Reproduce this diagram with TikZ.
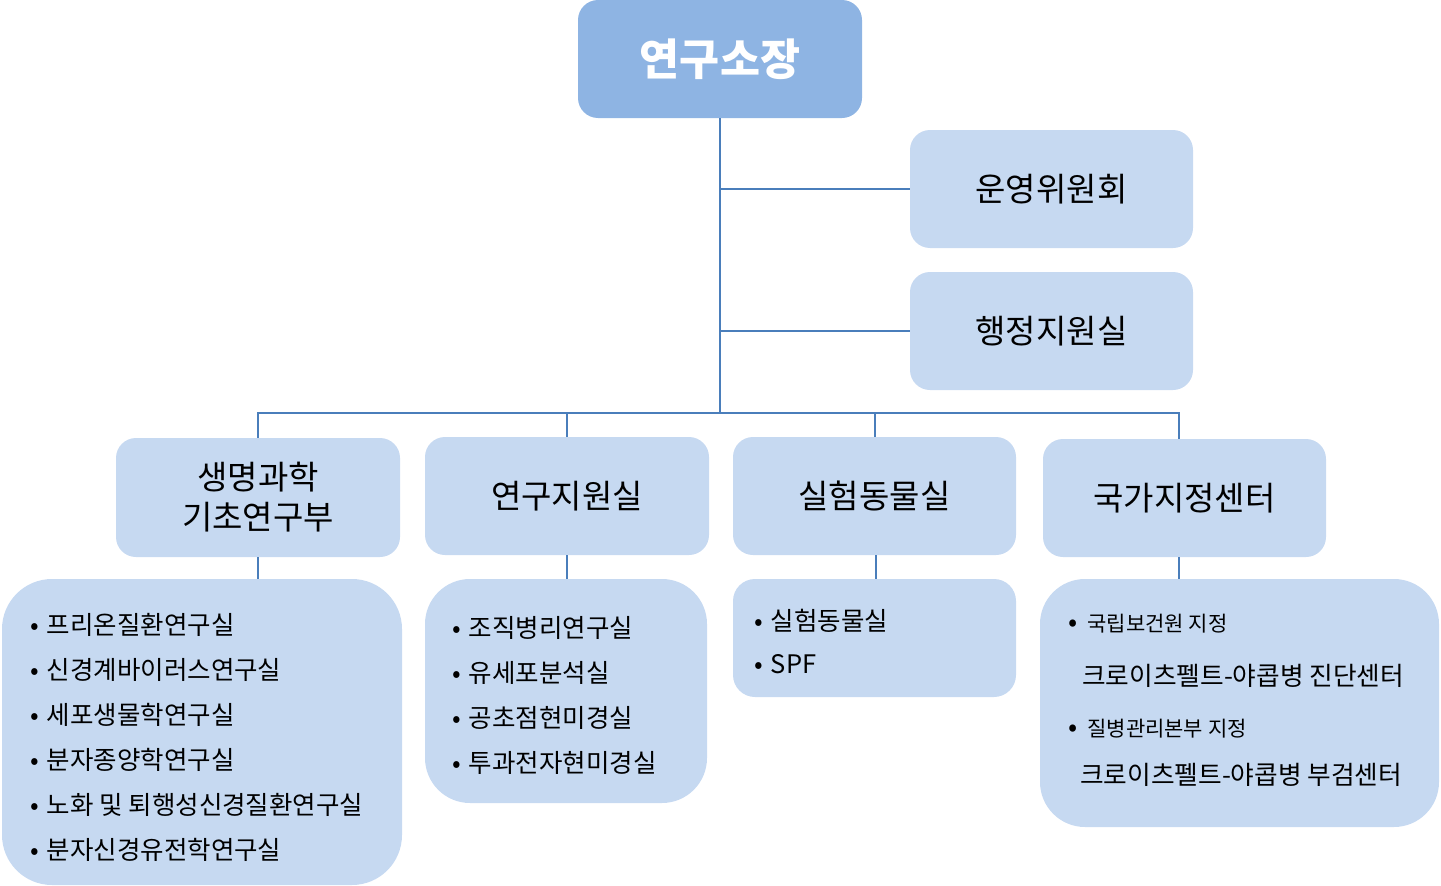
\documentclass[tikz,border=0pt]{standalone}
\usepackage{fontspec}
\setmainfont{Noto Sans CJK KR}
\usetikzlibrary{positioning}
\definecolor{headblue}{HTML}{8EB4E3}
\definecolor{boxblue}{HTML}{C6D9F1}
\definecolor{linkblue}{HTML}{4A7EBB}
\newcommand{\bul}{•\hspace{8pt}}

\begin{document}
\begin{tikzpicture}[
x=1pt,y=-1pt,
font=\normalfont,
head/.style={draw=none,fill=headblue,rounded corners=20pt,minimum width=284pt,minimum height=118pt,text=white,font=\fontsize{43.5}{46}\selectfont\bfseries},
unit/.style={draw=none,fill=boxblue,rounded corners=20pt,minimum width=283pt,minimum height=118pt,align=center,font=\fontsize{33}{40}\selectfont},
labs/.style={draw=none,fill=boxblue,inner sep=0pt},
items/.style={anchor=north west,inner sep=0pt,align=left,font=\fontsize{25.5}{45}\selectfont},
small/.style={anchor=west,inner sep=0pt,font=\fontsize{21}{24}\selectfont},
big/.style={anchor=west,inner sep=0pt,font=\fontsize{25.7}{28}\selectfont},
link/.style={draw=linkblue,line width=2pt}
]
    \useasboundingbox (0,0) rectangle (1441,886);

    % Director and staff offices
    \node[head] (dir) at (720,59) {연구소장};
    \node[unit] (com) at (1051.5,189) {운영위원회};
    \node[unit] (adm) at (1051.5,331) {행정지원실};

    % Departments
    \node[unit,minimum width=284pt,minimum height=119pt] (dep1) at (258,497.5) {생명과학\\기초연구부};
    \node[unit,minimum width=284pt] (dep2) at (567,496) {연구지원실};
    \node[unit] (dep3) at (874.5,496) {실험동물실};
    \node[unit,minimum height=118pt] (dep4) at (1184.5,498) {국가지정센터};

    % Labs under each department
    \node[labs,rounded corners=50pt,minimum width=400pt,minimum height=306pt] (lab1) at (202,732) {};
    \node[labs,rounded corners=45pt,minimum width=282pt,minimum height=224pt] (lab2) at (566,691) {};
    \node[labs,rounded corners=22pt,minimum width=283pt,minimum height=118pt] (lab3) at (874.5,638) {};
    \node[labs,rounded corners=45pt,minimum width=399pt,minimum height=248pt] (lab4) at (1239.5,703) {};

    \coordinate (bus) at (720,413);

    \draw[link] (dir.south) -- (bus);
    \draw[link] (dir.south |- com.west) -- (com.west);
    \draw[link] (dir.south |- adm.west) -- (adm.west);
    \draw[link] (dep1.north) -- (dep1.north |- bus) -| ([xshift=-6pt]dep4.north);
    \draw[link] (dep2.north) -- (dep2.north |- bus);
    \draw[link] (dep3.north) -- (dep3.north |- bus);

    \draw[link] (dep1.south) -- (dep1.south |- lab1.north);
    \draw[link] (dep2.south) -- (dep2.south |- lab2.north);
    \draw[link] ([xshift=1.5pt]dep3.south) -- ([xshift=1.5pt]dep3.south |- lab3.north);
    \draw[link] ([xshift=-6pt]dep4.south) -- ([xshift=-6pt]dep4.south |- lab4.north);

    \node[items] (list1) at (30,613) {\bul 프리온질환연구실\\\bul 신경계바이러스연구실\\\bul 세포생물학연구실\\\bul 분자종양학연구실\\\bul 노화 및 퇴행성신경질환연구실\\\bul 분자신경유전학연구실};
    \node[items] (list2) at (452,616) {\bul 조직병리연구실\\\bul 유세포분석실\\\bul 공초점현미경실\\\bul 투과전자현미경실};
    \node[items,font=\fontsize{25.5}{43}\selectfont] (list3) at (754,609) {\bul 실험동물실\\\bul SPF};

    \node[small] (nih) at (1068,624) {{\fontsize{27}{27}\selectfont •}\hspace{10pt}국립보건원 지정};
    \node[big] (diag) at (1082,676) {크로이츠펠트-야콥병 진단센터};
    \node[small] (kcdc) at (1068,729) {{\fontsize{27}{27}\selectfont •}\hspace{10pt}질병관리본부 지정};
    \node[big] (autop) at (1080,775) {크로이츠펠트-야콥병 부검센터};

\end{tikzpicture}
\end{document}
